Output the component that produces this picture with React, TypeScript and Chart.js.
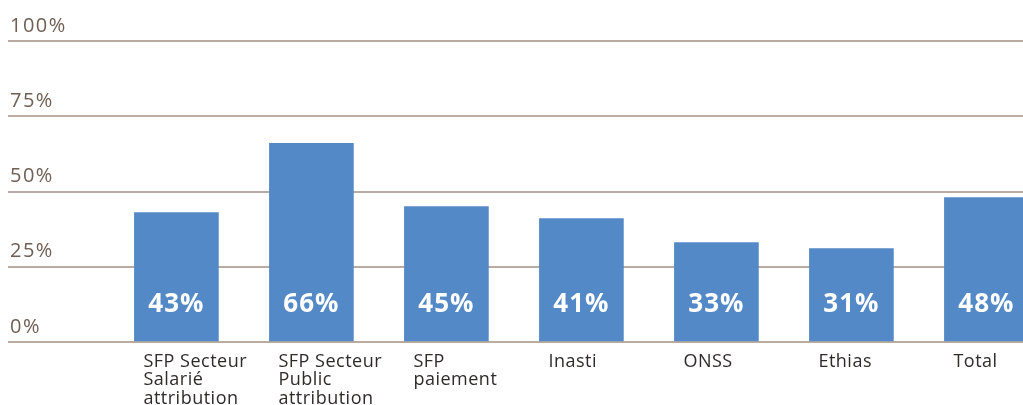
import React, { useEffect, useRef } from "react";
import { Chart, registerables } from "chart.js";

Chart.register(...registerables);

const categories: string[][] = [
  ["SFP Secteur", "Salarié", "attribution"],
  ["SFP Secteur", "Public", "attribution"],
  ["SFP", "paiement"],
  ["Inasti"],
  ["ONSS"],
  ["Ethias"],
  ["Total"],
];
const values: number[] = [43, 66, 45, 41, 33, 31, 48];
const yTicks: number[] = [0, 25, 50, 75, 100];

const BAR_COLOR = "#5489c7";
const GRID_COLOR = "#b9aba2";
const TICK_COLOR = "#6f5e53";
const LABEL_COLOR = "#2e2b2a";

const labelsPlugin = {
  id: "customLabels",
  beforeDraw(chart: any) {
    chart.ctx.letterSpacing = "1.5px";
  },
  afterDatasetsDraw(chart: any) {
    const ctx = chart.ctx;
    const meta = chart.getDatasetMeta(0);
    const yScale = chart.scales.y;
    const zeroY = yScale.getPixelForValue(0);
    ctx.save();
    ctx.letterSpacing = "1px";
    meta.data.forEach((bar: any, i: number) => {
      ctx.font = "bold 26px 'Open Sans'";
      ctx.fillStyle = "#ffffff";
      ctx.textAlign = "center";
      ctx.textBaseline = "alphabetic";
      ctx.fillText(values[i] + "%", bar.x, zeroY - 30);
    });
    ctx.restore();
  },
  afterDraw(chart: any) {
    const ctx = chart.ctx;
    const meta = chart.getDatasetMeta(0);
    const yScale = chart.scales.y;
    const zeroY = yScale.getPixelForValue(0);
    ctx.save();
    ctx.letterSpacing = "0.5px";
    ctx.font = "18px 'Open Sans'";
    ctx.fillStyle = LABEL_COLOR;
    ctx.textAlign = "left";
    ctx.textBaseline = "alphabetic";
    meta.data.forEach((bar: any, i: number) => {
      const left = bar.x - bar.width / 2 + 9;
      categories[i].forEach((line, j) => {
        ctx.fillText(line, left, zeroY + 25 + j * 18.3);
      });
    });
    ctx.restore();
  },
};

export default function App() {
  const ref = useRef<HTMLCanvasElement | null>(null);
  useEffect(() => {
    document.body.style.margin = "0";
    if (!ref.current) return;
    const chart = new Chart(ref.current, {
      type: "bar",
      data: {
        datasets: [
          {
            data: values.map((v, i) => ({ x: i, y: v })),
            backgroundColor: BAR_COLOR,
            barThickness: 84,
            borderWidth: 0,
          },
        ],
      },
      options: {
        animation: false,
        responsive: false,
        maintainAspectRatio: false,
        layout: { padding: { top: 33, bottom: 63, left: 0, right: 0 } },
        plugins: { legend: { display: false }, tooltip: { enabled: false } },
        scales: {
          x: {
            type: "linear",
            display: false,
            offset: false,
            min: -1.2474,
            max: 6.271,
          },
          y: {
            min: 0,
            max: 100,
            afterFit: (s: any) => {
              s.width = 0;
            },
            afterBuildTicks: (s: any) => {
              s.ticks = yTicks.map((v) => ({ value: v }));
            },
            border: { display: false },
            grid: { color: GRID_COLOR, lineWidth: 2, drawTicks: false },
            ticks: {
              mirror: true,
              padding: 2,
              labelOffset: -15,
              color: TICK_COLOR,
              font: { family: "'Open Sans'", size: 20 },
              callback: (v: any) => v + "%",
            },
          },
        },
      },
      plugins: [labelsPlugin],
    });
    return () => chart.destroy();
  }, []);
  return (
    <div
      style={{
        width: 1023,
        height: 405,
        paddingLeft: 8,
        paddingTop: 8,
        boxSizing: "border-box",
        overflow: "hidden",
      }}
    >
      <canvas ref={ref} width={1015} height={397} style={{ display: "block" }} />
    </div>
  );
}
